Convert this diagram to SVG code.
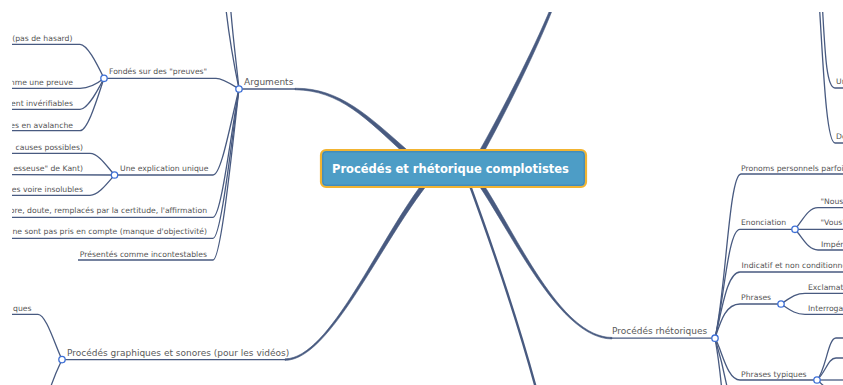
<svg xmlns="http://www.w3.org/2000/svg" width="843" height="385" viewBox="0 0 843 385">
<defs>
<clipPath id="view"><rect x="12" y="12" width="831" height="373"/></clipPath>
</defs>
<style>
.c{fill:none;stroke:#485a80;stroke-width:1.3}
.b{fill:#485a80;stroke:#485a80;stroke-width:0.6}
.dot{fill:#fff;stroke:#3d6fd6;stroke-width:1.3}
.t{font-family:"DejaVu Sans",Verdana,sans-serif;font-size:7.7px;fill:#555}
.l1{font-family:"DejaVu Sans",Verdana,sans-serif;font-size:9px;fill:#5a5a5a}
.e{text-anchor:end}
.title{font-family:"DejaVu Sans",Verdana,sans-serif;font-size:11.5px;font-weight:bold;fill:#fff}
</style>
<rect width="843" height="385" fill="#fff"/>
<g clip-path="url(#view)">
<g id="connectors">
<!-- main branches -->
<path class="b" d="M295,88.25 C340,87.8 369.2,116.7 407.5,150.3 L404.5,153.7 C366.8,119.3 340,90.2 295,89.75 Z"/>
<path class="b" d="M556,0.4 C541.3,40.5 506.8,111 480,159.1 L476,156.9 C503.2,109 538.7,39.5 554,-0.4 Z"/>
<path class="b" d="M285,358.85 C330,358.6 378.6,238.9 426.2,178.6 L429.8,181.4 C381.4,241.1 330,360.6 285,360.35 Z"/>
<path class="b" d="M479.75,178.6 C516.4,233.9 560,337.3 612,337.45 L612,338.95 C560,338.8 513.6,236.1 476.25,181.4 Z"/>
<path fill="none" stroke="#485a80" stroke-width="2.4" d="M468,180 C490,240 515,310 537,392"/>
<!-- Arguments -->
<path class="c" d="M239,89 L296,89"/>
<path class="c" d="M239,89 C233,60 228,30 225,0"/>
<path class="c" d="M239,89 C236,60 232,30 230,0"/>
<path class="c" d="M104,78.3 L216,78.3 C223,78.3 231,84 239,89"/>
<path class="c" d="M114.5,175 L213,175 C221,175 229,130 239,89"/>
<path class="c" d="M0,217.3 L213,217.3 C221,217.3 230,140 239,89"/>
<path class="c" d="M0,238.3 L213,238.3 C221,238.3 231,145 239,89"/>
<path class="c" d="M78,260 L213,260 C221,260 232,150 239,89"/>
<!-- Fondés -->
<path class="c" d="M0,44.3 L80,44.3 C87,44.3 96,62 104,78.3"/>
<path class="c" d="M0,88.3 L80,88.3 C88,88.3 97,84 104,78.3"/>
<path class="c" d="M0,109.3 L80,109.3 C88,109.3 98,90 104,78.3"/>
<path class="c" d="M0,130.7 L80,130.7 C88,130.7 98,96 104,78.3"/>
<!-- Une explication -->
<path class="c" d="M0,153.3 L90,153.3 C98,153.3 106,165 114.5,175"/>
<path class="c" d="M0,174.5 L114.5,175"/>
<path class="c" d="M0,195.3 L90,195.3 C98,195.3 106,185 114.5,175"/>
<!-- Graphiques -->
<path class="c" d="M62,359.6 L286,359.6"/>
<path class="c" d="M0,314.3 L38,314.3 C46,314.3 55,345 62,359.6"/>
<path class="c" d="M62,359.6 C58,368 54,376 49,392"/>
<!-- Rhétoriques -->
<path class="c" d="M610,338.2 L715,338.2"/>
<path class="c" d="M715,338.2 C726,290 729,174 741,174 L843,174"/>
<path class="c" d="M715,338.2 C724,300 728,229.3 740,229.3 L795,229.3"/>
<path class="c" d="M715,338.2 C722,310 727,272 740,272 L843,272"/>
<path class="c" d="M715,338.2 C721,320 726,304 740,304 L781,304"/>
<path class="c" d="M715,338.2 C722,350 727,380 740,380 L817,380"/>
<path class="c" d="M715,338.2 C718,355 720,370 722,392"/>
<path class="c" d="M715,338.2 C720,355 724,370 728,392"/>
<!-- Enonciation -->
<path class="c" d="M795,229.3 C803,220 808,207.7 818,207.7 L843,207.7"/>
<path class="c" d="M795,229.3 L843,229.3"/>
<path class="c" d="M795,229.3 C803,238 808,250 818,250 L843,250"/>
<!-- Phrases -->
<path class="c" d="M781,304 C790,298 795,293.3 805,293.3 L843,293.3"/>
<path class="c" d="M781,304 C790,310 795,314.3 805,314.3 L843,314.3"/>
<!-- Phrases typiques -->
<path class="c" d="M817,380 C826,370 828,338 836,338 L843,338"/>
<path class="c" d="M817,380 C826,372 828,358 836,358 L843,358"/>
<path class="c" d="M817,380 L843,380"/>
<path class="c" d="M817,380 C822,384 826,388 830,392"/>
<!-- top right -->
<path class="c" d="M822,0 C825,50 826,88 835,88 L843,88"/>
<path class="c" d="M819,0 C823,60 826,143 835,143 L843,143"/>
</g>

<g id="central">
<rect x="321" y="150" width="265" height="37" rx="5" fill="#4d9dc6" stroke="#f2b431" stroke-width="2.2"/>
<rect x="322.8" y="151.8" width="261.4" height="33.4" rx="3.5" fill="none" stroke="#3e7fb0" stroke-width="0.8"/>
<text class="title" x="332" y="173">Procédés et rhétorique complotistes</text>
</g>

<g id="arguments">
<text class="l1" x="244" y="84.5">Arguments</text>
<circle class="dot" cx="239" cy="89" r="3.2"/>
</g>
<g id="fondes">
<text class="t" x="109" y="74">Fondés sur des "preuves"</text>
<circle class="dot" cx="104" cy="78.3" r="3.2"/>
</g>
<g id="fondes-1"><text class="t e" x="72.5" y="41">(pas de hasard)</text></g>
<g id="fondes-2"><text class="t e" x="73" y="84.7">mme une preuve</text></g>
<g id="fondes-3"><text class="t e" x="73" y="106">ent invérifiables</text></g>
<g id="fondes-4"><text class="t e" x="73" y="127.7">es en avalanche</text></g>
<g id="explication">
<text class="t" x="120" y="171.3">Une explication unique</text>
<circle class="dot" cx="114.5" cy="175" r="3.2"/>
</g>
<g id="explication-1"><text class="t e" x="83" y="149.5">causes possibles)</text></g>
<g id="explication-2"><text class="t e" x="83" y="170.7">esseuse" de Kant)</text></g>
<g id="explication-3"><text class="t e" x="83" y="191.7">es voire insolubles</text></g>
<g id="arg-4"><text class="t e" x="207" y="212.7">ore, doute, remplacés par la certitude, l'affirmation</text></g>
<g id="arg-5"><text class="t e" x="207" y="234">ne sont pas pris en compte (manque d'objectivité)</text></g>
<g id="arg-6"><text class="t e" x="207" y="256.7">Présentés comme incontestables</text></g>

<g id="graphiques">
<text class="l1" x="67" y="356">Procédés graphiques et sonores (pour les vidéos)</text>
<circle class="dot" cx="62" cy="359.6" r="3.2"/>
</g>
<g id="graphiques-1"><text class="t e" x="31.5" y="311">ques</text></g>

<g id="rhetoriques">
<text class="l1" x="612" y="334">Procédés rhétoriques</text>
<circle class="dot" cx="715" cy="338.2" r="3.2"/>
</g>
<g id="pronoms"><text class="t" x="741" y="170.5">Pronoms personnels parfoi</text></g>
<g id="enonciation">
<text class="t" x="741" y="225.3">Enonciation</text>
<circle class="dot" cx="795" cy="229.3" r="3.2"/>
</g>
<g id="nous"><text class="t" x="820.5" y="203.5">"Nous</text></g>
<g id="vous"><text class="t" x="820.5" y="225">"Vous"</text></g>
<g id="imper"><text class="t" x="821" y="246.5">Impér</text></g>
<g id="indicatif"><text class="t" x="741.5" y="268">Indicatif et non conditionne</text></g>
<g id="phrases">
<text class="t" x="741" y="300">Phrases</text>
<circle class="dot" cx="781" cy="304" r="3.2"/>
</g>
<g id="exclam"><text class="t" x="808" y="290">Exclamat</text></g>
<g id="interro"><text class="t" x="808" y="310.7">Interroga</text></g>
<g id="typiques">
<text class="t" x="741" y="376.7">Phrases typiques</text>
<circle class="dot" cx="817" cy="380" r="3.2"/>
</g>
<g id="un"><text class="t" x="836" y="84">Un</text></g>
<g id="de"><text class="t" x="836" y="138.5">De</text></g>
</g>
</svg>
